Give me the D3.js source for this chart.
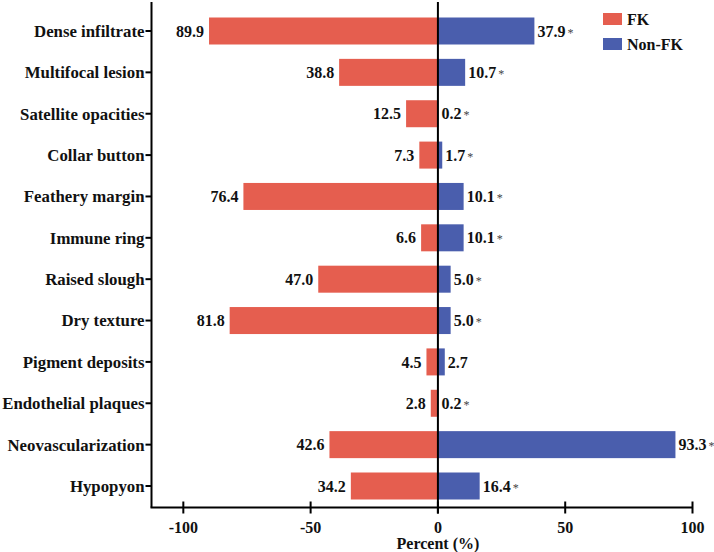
<!DOCTYPE html>
<html>
<head>
<meta charset="utf-8">
<script src="https://cdn.jsdelivr.net/npm/d3@7"></script>
<style>
  html, body { margin: 0; padding: 0; background: #fff; }
  svg { display: block; }
</style>
</head>
<body>
<svg id="chart" width="714" height="552"></svg>
<script>
const categories = ["Dense infiltrate", "Multifocal lesion", "Satellite opacities", "Collar button",
  "Feathery margin", "Immune ring", "Raised slough", "Dry texture", "Pigment deposits",
  "Endothelial plaques", "Neovascularization", "Hypopyon"];
const fkValues = [89.9, 38.8, 12.5, 7.3, 76.4, 6.6, 47.0, 81.8, 4.5, 2.8, 42.6, 34.2];
const nonFkValues = [37.9, 10.7, 0.2, 1.7, 10.1, 10.1, 5.0, 5.0, 2.7, 0.2, 93.3, 16.4];
const significant = [true, true, true, true, true, true, true, true, false, true, true, true];
const xTicks = [-100, -50, 0, 50, 100];
const seriesNames = ["FK", "Non-FK"];
const colors = ["#E55E4F", "#4A5EAD"];

const FONT = "'Liberation Serif', 'Times New Roman', Times, serif";
const FS = 16;
const svg = d3.select("#chart");
const x = d3.scaleLinear().domain([-112.5, 100]).range([151.5, 692.5]);
const y = d3.scalePoint().domain(categories).range([31, 486]);
const barH = 27;
const axisY = 507.5;

function txt(sel) {
  return sel.style("font-family", FONT).style("font-weight", "bold").attr("fill", "#111");
}

// bars
const g = svg.append("g");
g.selectAll("rect.fk").data(categories).join("rect")
  .attr("class", "fk")
  .attr("x", (d, i) => x(-fkValues[i]))
  .attr("y", d => y(d) - barH / 2)
  .attr("width", (d, i) => x(0) - x(-fkValues[i]))
  .attr("height", barH)
  .attr("fill", colors[0]);
g.selectAll("rect.nfk").data(categories).join("rect")
  .attr("class", "nfk")
  .attr("x", x(0))
  .attr("y", d => y(d) - barH / 2)
  .attr("width", (d, i) => x(nonFkValues[i]) - x(0))
  .attr("height", barH)
  .attr("fill", colors[1]);

// value labels
txt(g.selectAll("text.fkl").data(categories).join("text"))
  .attr("class", "fkl")
  .attr("x", (d, i) => x(-fkValues[i]) - 5)
  .attr("y", d => y(d))
  .attr("dy", "0.35em")
  .attr("text-anchor", "end")
  .attr("font-size", FS)
  .text((d, i) => fkValues[i].toFixed(1));
const nl = txt(g.selectAll("text.nfl").data(categories).join("text"))
  .attr("class", "nfl")
  .attr("x", (d, i) => x(nonFkValues[i]) + 3)
  .attr("y", d => y(d))
  .attr("dy", "0.35em")
  .attr("font-size", FS);
nl.append("tspan").text((d, i) => nonFkValues[i].toFixed(1));
nl.append("tspan")
  .attr("dx", 2)
  .attr("font-size", 12)
  .style("font-weight", "normal")
  .attr("fill", "#444")
  .text((d, i) => significant[i] ? "*" : "");

// zero line
svg.append("line")
  .attr("x1", x(0)).attr("x2", x(0))
  .attr("y1", 2).attr("y2", axisY + 6)
  .attr("stroke", "#000").attr("stroke-width", 2);

// y axis
svg.append("line")
  .attr("x1", x.range()[0]).attr("x2", x.range()[0])
  .attr("y1", 2).attr("y2", axisY)
  .attr("stroke", "#000").attr("stroke-width", 2);
svg.selectAll("line.ytick").data(categories).join("line")
  .attr("class", "ytick")
  .attr("x1", x.range()[0] - 6).attr("x2", x.range()[0])
  .attr("y1", d => y(d)).attr("y2", d => y(d))
  .attr("stroke", "#000").attr("stroke-width", 2);
txt(svg.selectAll("text.ylab").data(categories).join("text"))
  .attr("class", "ylab")
  .attr("x", x.range()[0] - 7)
  .attr("y", d => y(d))
  .attr("dy", "0.35em")
  .attr("text-anchor", "end")
  .attr("font-size", 16.8)
  .text(d => d);

// x axis
svg.append("line")
  .attr("x1", x.range()[0] - 1).attr("x2", x.range()[1])
  .attr("y1", axisY).attr("y2", axisY)
  .attr("stroke", "#000").attr("stroke-width", 2);
svg.selectAll("line.xtick").data(xTicks).join("line")
  .attr("class", "xtick")
  .attr("x1", d => x(d)).attr("x2", d => x(d))
  .attr("y1", axisY - 6).attr("y2", axisY + 6)
  .attr("stroke", "#000").attr("stroke-width", 2);
txt(svg.selectAll("text.xlab").data(xTicks).join("text"))
  .attr("class", "xlab")
  .attr("x", d => x(d))
  .attr("y", 533)
  .attr("text-anchor", "middle")
  .attr("font-size", FS)
  .text(d => d);
txt(svg.append("text"))
  .attr("x", x(0))
  .attr("y", 549)
  .attr("text-anchor", "middle")
  .attr("font-size", FS)
  .text("Percent (%)");

// legend
const leg = svg.append("g");
seriesNames.forEach((name, i) => {
  leg.append("rect")
    .attr("x", 603).attr("y", 13 + i * 25)
    .attr("width", 19).attr("height", 12)
    .attr("fill", colors[i]);
  txt(leg.append("text"))
    .attr("x", 627).attr("y", 19 + i * 25)
    .attr("dy", "0.35em")
    .attr("font-size", FS)
    .text(name);
});
</script>
</body>
</html>
